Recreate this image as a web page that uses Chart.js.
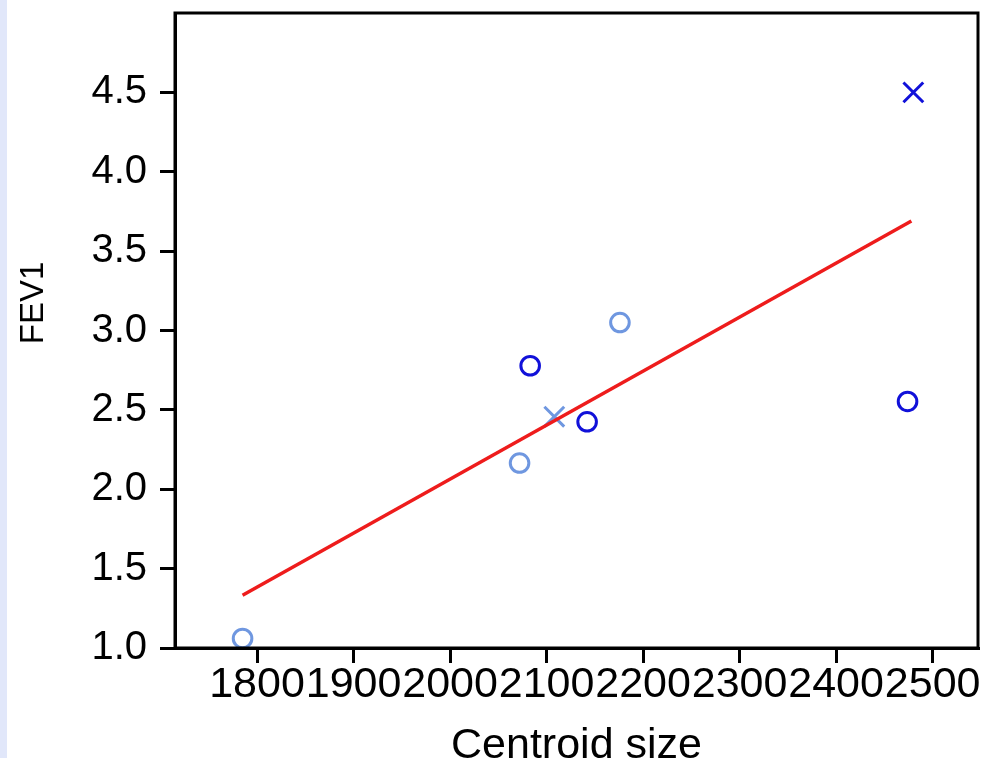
<html lang="en">
<head>
  <meta charset="UTF-8">
  <title>FEV1 vs Centroid size</title>
  <script src="https://cdn.jsdelivr.net/npm/chart.js"></script>
  <style>
    body, html {
      margin: 0;
      padding: 0;
      overflow: hidden;
      background-color: #ffffff;
      font-family: "Liberation Sans", Arial, sans-serif;
    }
    .strip {
      position: absolute;
      left: 0;
      top: 0;
      width: 7px;
      height: 758px;
      background-color: #e1e7fa;
    }
    .chart-container {
      position: absolute;
      left: 0;
      top: 0;
      width: 986px;
      height: 790px;
    }
  </style>
</head>
<body>
  <div class="strip"></div>
  <div class="chart-container"><canvas id="myChart" width="986" height="790"></canvas></div>

  <script>
    // values
    const xTicks = [1800, 1900, 2000, 2100, 2200, 2300, 2400, 2500];
    const yTicks = [1.0, 1.5, 2.0, 2.5, 3.0, 3.5, 4.0, 4.5];

    const lightCircleX = [1785, 2072, 2176];
    const lightCircleY = [1.06, 2.165, 3.05];
    const lightCrossX = [2108];
    const lightCrossY = [2.457];
    const darkCircleX = [2083, 2142, 2474];
    const darkCircleY = [2.778, 2.425, 2.553];
    const darkCrossX = [2480];
    const darkCrossY = [4.5];
    const fitX = [1785, 2478];
    const fitY = [1.332, 3.69];

    const LIGHT = '#6f97e0';
    const DARK = '#1111d9';
    const pts = (xs, ys) => xs.map((x, i) => ({ x: x, y: ys[i] }));

    // draws top and right sides of the box
    const frame = {
      id: 'frame',
      afterDatasetsDraw(chart) {
        const a = chart.chartArea;
        const c = chart.ctx;
        c.save();
        c.strokeStyle = '#000';
        c.lineWidth = 3;
        c.strokeRect(a.left, a.top, a.right - a.left, a.bottom - a.top);
        c.restore();
      }
    };

    const ctx = document.getElementById('myChart').getContext('2d');
    const myChart = new Chart(ctx, {
      type: 'scatter',
      data: {
        datasets: [
          {
            label: 'fit',
            data: pts(fitX, fitY),
            showLine: true,
            borderColor: '#ee1c1c',
            borderWidth: 3.5,
            pointRadius: 0,
            fill: false
          },
          {
            label: 'light circles',
            data: pts(lightCircleX, lightCircleY),
            pointStyle: 'circle',
            pointRadius: 9.3,
            borderWidth: 3,
            borderColor: LIGHT,
            backgroundColor: 'rgba(0,0,0,0)'
          },
          {
            label: 'light cross',
            data: pts(lightCrossX, lightCrossY),
            pointStyle: 'crossRot',
            pointRadius: 14,
            borderWidth: 3,
            borderColor: LIGHT
          },
          {
            label: 'dark circles',
            data: pts(darkCircleX, darkCircleY),
            pointStyle: 'circle',
            pointRadius: 9.3,
            borderWidth: 3,
            borderColor: DARK,
            backgroundColor: 'rgba(0,0,0,0)'
          },
          {
            label: 'dark cross',
            data: pts(darkCrossX, darkCrossY),
            pointStyle: 'crossRot',
            pointRadius: 14,
            borderWidth: 3,
            borderColor: DARK
          }
        ]
      },
      options: {
        responsive: false,
        animation: false,
        layout: {
          autoPadding: false,
          padding: { left: 0, top: 13, right: 8, bottom: 22 }
        },
        plugins: {
          legend: { display: false },
          tooltip: { enabled: false }
        },
        scales: {
          x: {
            type: 'linear',
            min: 1715,
            max: 2547,
            afterBuildTicks: (s) => { s.ticks = xTicks.map(v => ({ value: v })); },
            afterFit: (s) => {
              s.height = 120;
              s.paddingLeft = 0;
              s.paddingRight = 0;
            },
            border: { display: true, color: '#000', width: 3 },
            grid: {
              drawOnChartArea: false,
              drawTicks: true,
              tickLength: 15,
              color: '#000',
              lineWidth: 3
            },
            ticks: {
              color: '#000',
              padding: 1,
              maxRotation: 0,
              autoSkip: false,
              font: { family: '"Liberation Sans", Arial', size: 43, lineHeight: 1 },
              callback: (v) => String(v)
            },
            title: {
              display: true,
              text: 'Centroid size',
              color: '#000',
              padding: { top: 0, bottom: -4 },
              font: { family: '"Liberation Sans", Arial', size: 43 }
            }
          },
          y: {
            type: 'linear',
            min: 1.0,
            max: 5.0,
            afterBuildTicks: (s) => { s.ticks = yTicks.map(v => ({ value: v })); },
            afterFit: (s) => {
              s.width = 175;
              s.paddingTop = 0;
              s.paddingBottom = 0;
            },
            border: { display: true, color: '#000', width: 3 },
            grid: {
              drawOnChartArea: false,
              drawTicks: true,
              tickLength: 15,
              color: '#000',
              lineWidth: 3
            },
            ticks: {
              color: '#000',
              padding: 13,
              autoSkip: false,
              font: { family: '"Liberation Sans", Arial', size: 40 },
              callback: (v) => Number(v).toFixed(1)
            },
            title: {
              display: true,
              // leading spaces nudge the label up, as in the original
              text: '      FEV1',
              color: '#000',
              padding: { top: 14, bottom: 0 },
              font: { family: '"Liberation Sans", Arial', size: 33 }
            }
          }
        }
      },
      plugins: [frame]
    });
  </script>
</body>
</html>
